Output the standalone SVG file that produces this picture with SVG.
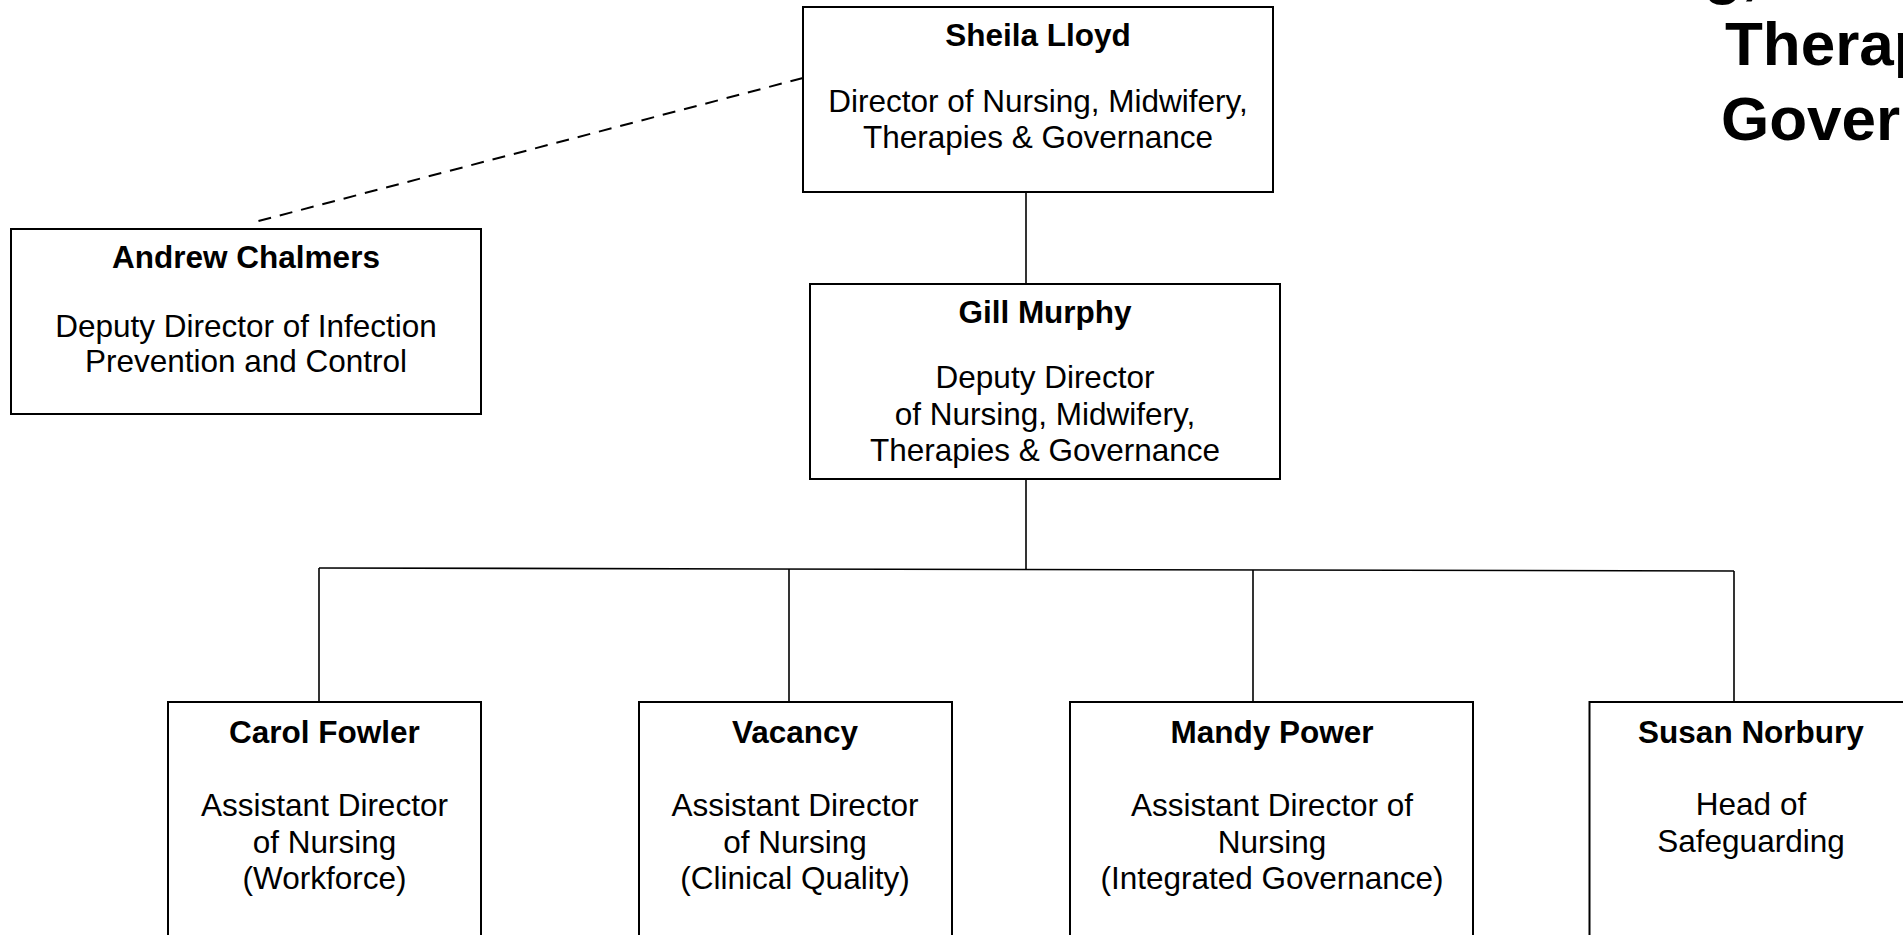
<svg xmlns="http://www.w3.org/2000/svg" width="1903" height="935" viewBox="0 0 1903 935">
<style>
  .box { fill: #ffffff; stroke: #000000; stroke-width: 2; }
  .name { font-family: "Liberation Sans", Arial, sans-serif; font-weight: bold; font-size: 31.5px; text-anchor: middle; fill: #000; }
  .role { font-family: "Liberation Sans", Arial, sans-serif; font-size: 31.5px; text-anchor: middle; fill: #000; }
  .title { font-family: "Liberation Sans", Arial, sans-serif; font-weight: bold; font-size: 62px; fill: #000; }
  .conn { stroke: #000; stroke-width: 1.6; fill: none; }
  .dash { stroke: #000; stroke-width: 2; fill: none; stroke-dasharray: 13 9; }
</style>
<rect x="0" y="0" width="1903" height="935" fill="#ffffff"/>

<g id="title">
  <text class="title" x="1704" y="-8">g,</text>
  <text class="title" x="1725" y="65">Therap</text>
  <text class="title" x="1721" y="140">Gover</text>
</g>

<g id="connectors">
  <line class="dash" x1="803" y1="78" x2="251" y2="223"/>
  <line class="conn" x1="1026" y1="192" x2="1026" y2="284"/>
  <line class="conn" x1="1026" y1="479" x2="1026" y2="569.5"/>
  <line class="conn" x1="319" y1="568" x2="1734" y2="571"/>
  <line class="conn" x1="319" y1="568" x2="319" y2="702"/>
  <line class="conn" x1="789" y1="569" x2="789" y2="702"/>
  <line class="conn" x1="1253" y1="570" x2="1253" y2="702"/>
  <line class="conn" x1="1734" y1="571" x2="1734" y2="702"/>
</g>

<g id="node-sheila-lloyd">
  <rect class="box" x="803" y="7" width="470" height="185"/>
  <text class="name" x="1038" y="45.5">Sheila Lloyd</text>
  <text class="role" x="1038" y="112">Director of Nursing, Midwifery,</text>
  <text class="role" x="1038" y="147.5">Therapies &amp; Governance</text>
</g>

<g id="node-andrew-chalmers">
  <rect class="box" x="11" y="229" width="470" height="185"/>
  <text class="name" x="246" y="268">Andrew Chalmers</text>
  <text class="role" x="246" y="337">Deputy Director of Infection</text>
  <text class="role" x="246" y="372">Prevention and Control</text>
</g>

<g id="node-gill-murphy">
  <rect class="box" x="810" y="284" width="470" height="195"/>
  <text class="name" x="1045" y="323">Gill Murphy</text>
  <text class="role" x="1045" y="388">Deputy Director</text>
  <text class="role" x="1045" y="425">of Nursing, Midwifery,</text>
  <text class="role" x="1045" y="461">Therapies &amp; Governance</text>
</g>

<g id="node-carol-fowler">
  <rect class="box" x="168" y="702" width="313" height="245"/>
  <text class="name" x="324.5" y="743">Carol Fowler</text>
  <text class="role" x="324.5" y="816">Assistant Director</text>
  <text class="role" x="324.5" y="853">of Nursing</text>
  <text class="role" x="324.5" y="889">(Workforce)</text>
</g>

<g id="node-vacancy">
  <rect class="box" x="639" y="702" width="313" height="245"/>
  <text class="name" x="795" y="743">Vacancy</text>
  <text class="role" x="795" y="816">Assistant Director</text>
  <text class="role" x="795" y="853">of Nursing</text>
  <text class="role" x="795" y="889">(Clinical Quality)</text>
</g>

<g id="node-mandy-power">
  <rect class="box" x="1070" y="702" width="403" height="245"/>
  <text class="name" x="1272" y="743">Mandy Power</text>
  <text class="role" x="1272" y="816">Assistant Director of</text>
  <text class="role" x="1272" y="853">Nursing</text>
  <text class="role" x="1272" y="889">(Integrated Governance)</text>
</g>

<g id="node-susan-norbury">
  <rect class="box" x="1589.5" y="702" width="330" height="245"/>
  <text class="name" x="1751" y="743">Susan Norbury</text>
  <text class="role" x="1751" y="815">Head of</text>
  <text class="role" x="1751" y="852">Safeguarding</text>
</g>
</svg>
